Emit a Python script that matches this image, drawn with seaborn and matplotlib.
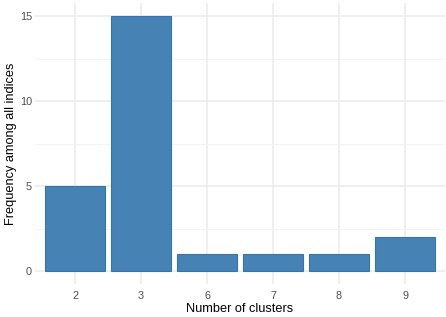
import numpy as np
import pandas as pd
import matplotlib
matplotlib.use("Agg")
import matplotlib.pyplot as plt
import seaborn as sns

clusters = ["2", "3", "6", "7", "8", "9"]
frequency = [5, 15, 1, 1, 1, 2]

df = pd.DataFrame({"clusters": clusters, "frequency": frequency})

sns.set_theme(style="whitegrid")
plt.rcParams["font.family"] = ["Liberation Sans", "DejaVu Sans"]

fig = plt.figure(figsize=(4.46, 3.17), dpi=100)
ax = fig.add_axes([0.0794, 0.1049, 0.9175, 0.8848])

sns.barplot(data=df, x="clusters", y="frequency", color="#4682B4", saturation=1,
            width=0.9, edgecolor="#3474b0", linewidth=0.8, ax=ax, zorder=3)

ax.set_xlim(-0.6, 5.6)
ax.set_ylim(-0.75, 15.75)
ax.set_yticks([0, 5, 10, 15])
ax.set_yticks([2.5, 7.5, 12.5], minor=True)
ax.grid(True, which="major", color="#ebebeb", linewidth=1.1, zorder=0)
ax.grid(True, which="minor", axis="y", color="#f2f2f2", linewidth=0.6, zorder=0)
ax.set_axisbelow(True)
for s in ax.spines.values():
    s.set_visible(False)
ax.tick_params(axis="y", which="both", length=0, labelsize=7.8, labelcolor="#4d4d4d", pad=2.5)
ax.tick_params(axis="x", which="both", length=0, labelsize=7.8, labelcolor="#4d4d4d", pad=5)
ax.set_xlabel("Number of clusters", fontsize=9.2, color="black", labelpad=2)
ax.set_ylabel("Frequency among all indices", fontsize=9.2, color="black")
ax.yaxis.set_label_coords(-0.045, 0.5)

fig.savefig("out.png", dpi=100, facecolor="white")
